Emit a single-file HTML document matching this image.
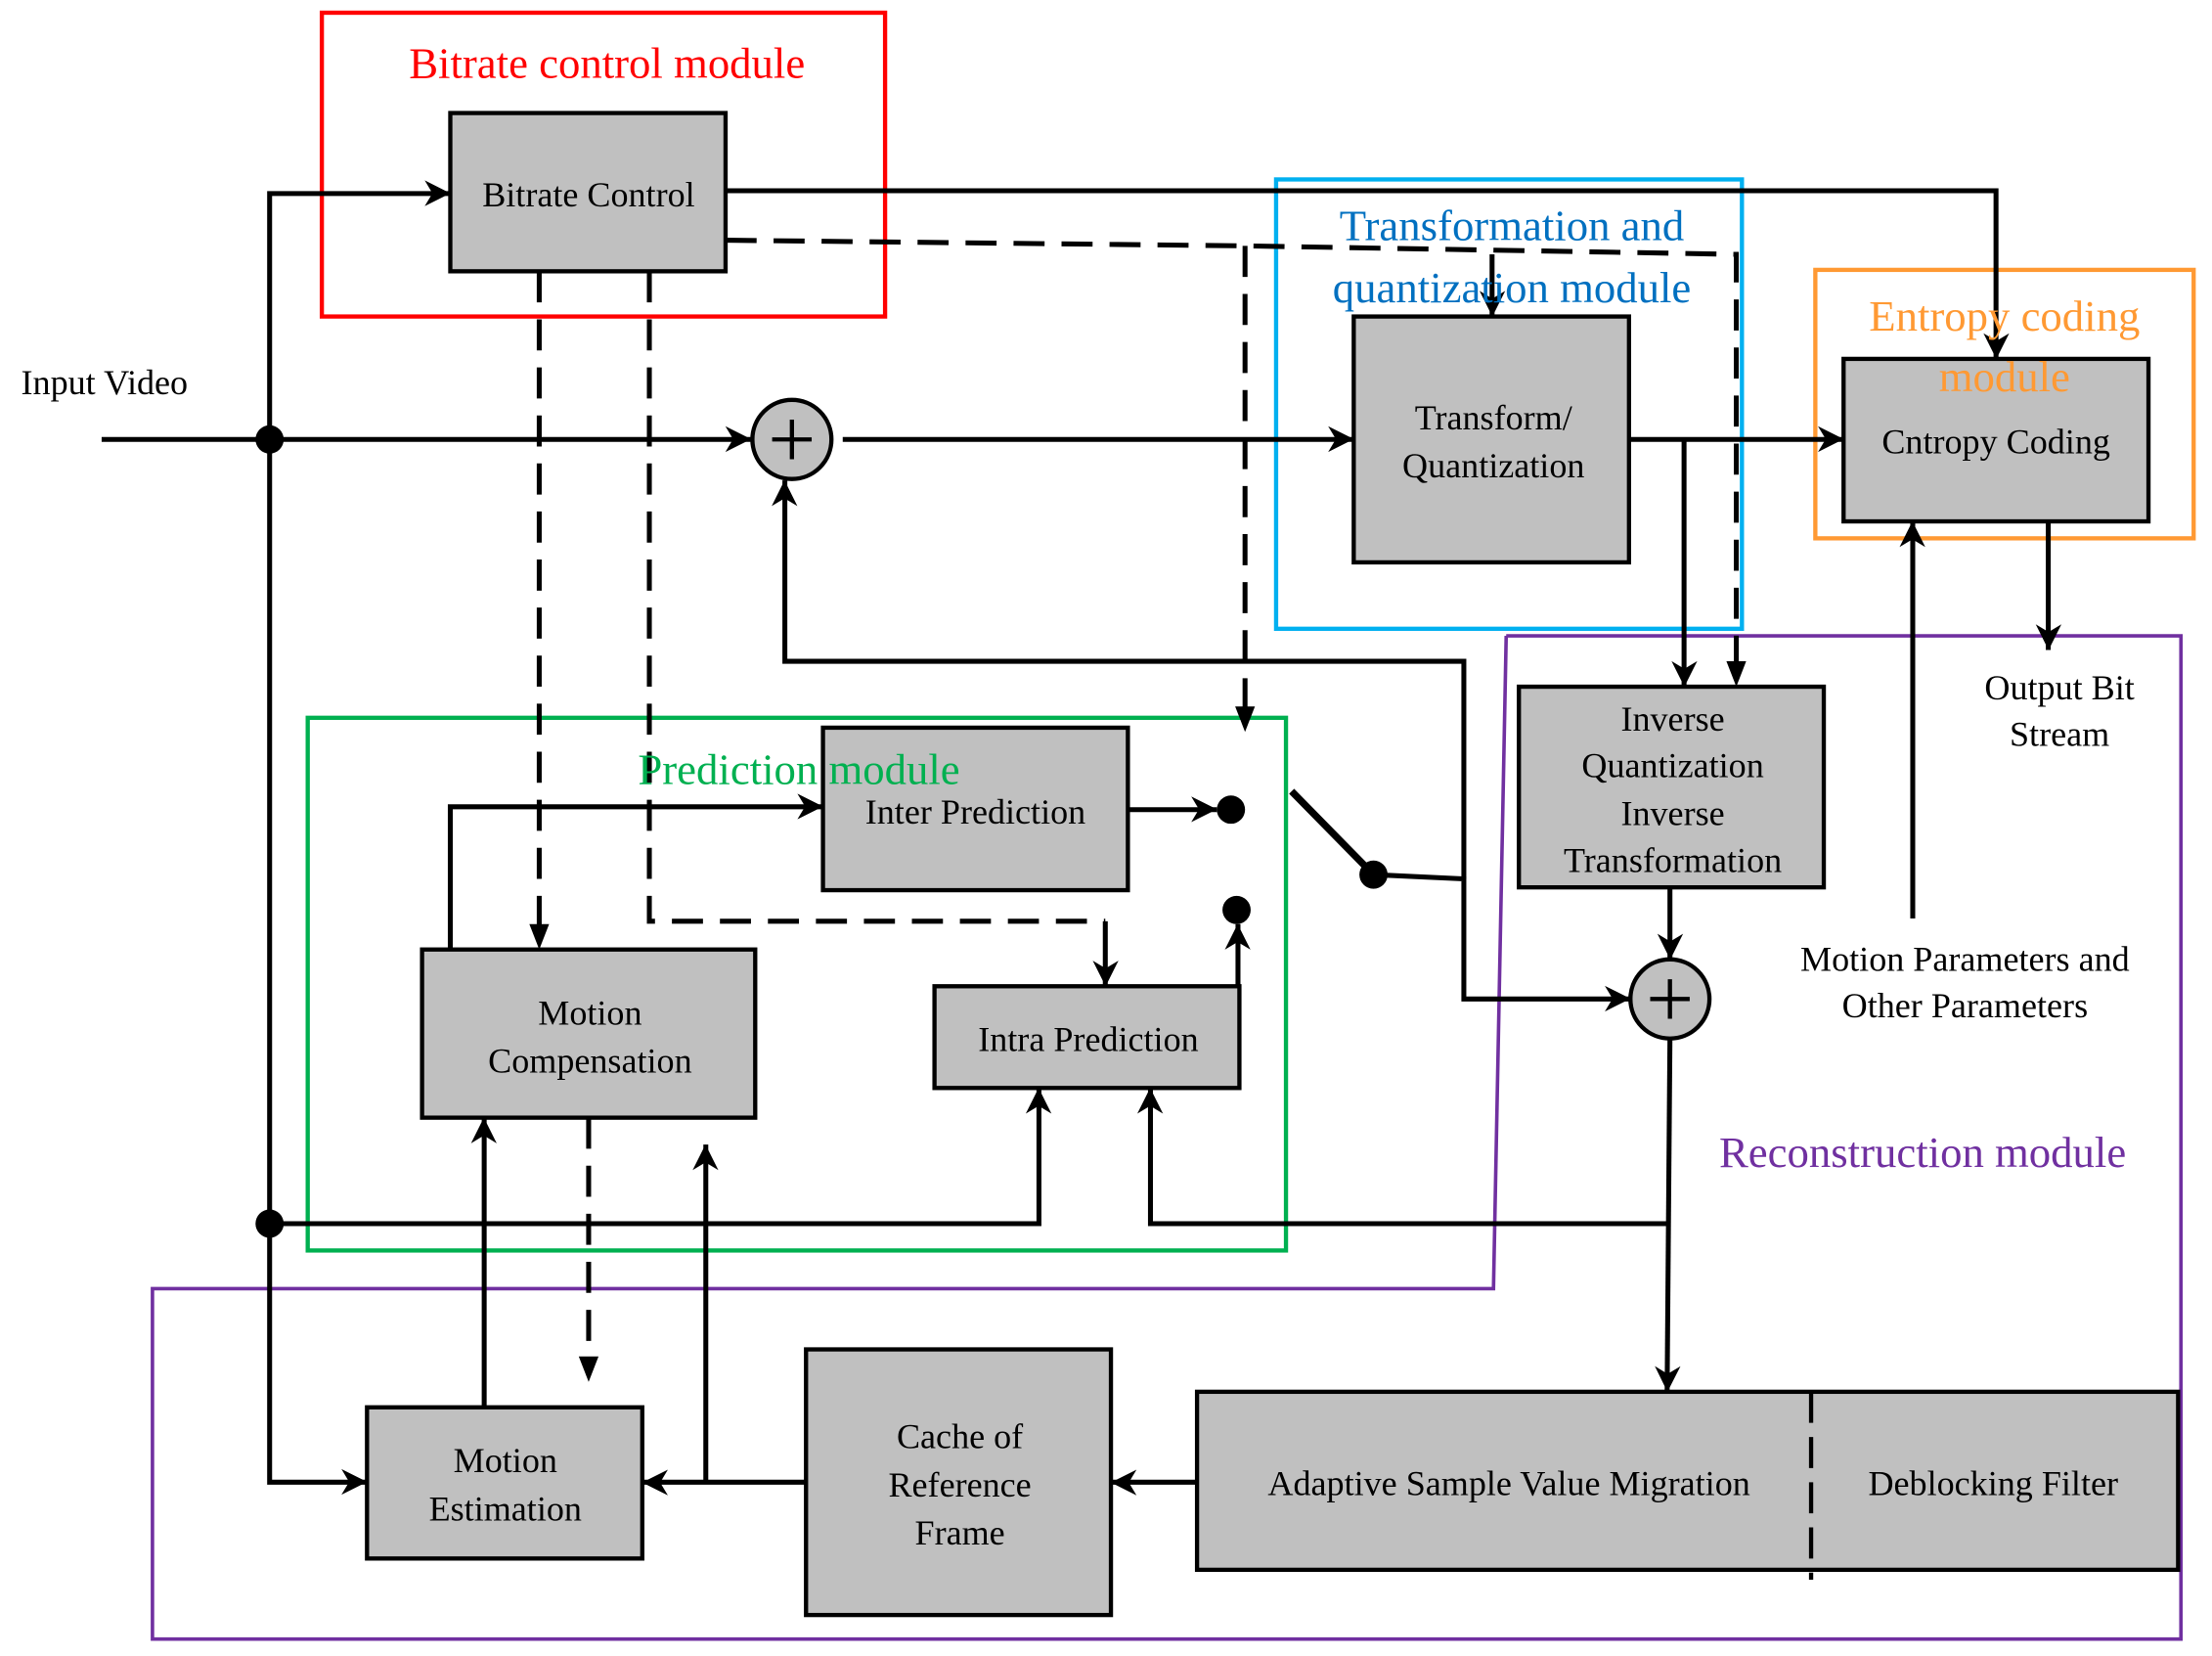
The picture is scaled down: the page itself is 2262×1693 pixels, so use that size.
<!DOCTYPE html>
<html><head><meta charset="utf-8"><style>
html,body{margin:0;padding:0;background:#fff;}
svg{display:block;}
text{font-family:"Liberation Serif",serif;font-size:25px;text-anchor:middle;fill:#000;}
.m{font-size:31px;}
</style></head><body>
<svg width="2262" height="1693" viewBox="0 0 1567 1172" preserveAspectRatio="none" xmlns="http://www.w3.org/2000/svg">
<defs>
<marker id="a" viewBox="0 0 10 10" refX="9" refY="5" markerWidth="7" markerHeight="7" orient="auto" markerUnits="userSpaceOnUse" style="overflow:visible">
<path d="M0,0 L10,5 L0,10 L3,5 z" fill="#000" transform="scale(2.6) translate(-6.5,-3.2)"/>
</marker>
</defs>
<g fill="none" stroke-width="3">
<rect x="228" y="9" width="399" height="215" stroke="#ff0000"/>
<rect x="904" y="127" width="330" height="318" stroke="#00b0f0"/>
<rect x="1286" y="191" width="268" height="190" stroke="#ff9933"/>
<rect x="218" y="508" width="693" height="377" stroke="#00b050"/>
<polyline points="1067,450 1545,450 1545,1160 108,1160 108,912 1058,912 1067,450" stroke="#7030a0" stroke-width="2.5"/>
</g>
<g fill="#c0c0c0" stroke="#000" stroke-width="3">
<rect x="319" y="80" width="195" height="112"/>
<rect x="959" y="224" width="195" height="174"/>
<rect x="1306" y="254" width="216" height="115"/>
<rect x="583" y="515" width="216" height="115"/>
<rect x="299" y="672" width="236" height="119"/>
<rect x="662" y="698" width="216" height="72"/>
<rect x="1076" y="486" width="216" height="142"/>
<rect x="260" y="996" width="195" height="107"/>
<rect x="571" y="955" width="216" height="188"/>
<rect x="848" y="985" width="695" height="126"/>
<circle cx="561" cy="311" r="28"/>
<circle cx="1183" cy="707" r="28"/>
</g>
<g stroke="#000" stroke-width="3" fill="none">
<path d="M547,311 H575 M561,297 V325 M1169,707 H1197 M1183,693 V721"/>
<line x1="1283" y1="985" x2="1283" y2="1118" stroke-dasharray="22,10"/>
</g>
<g stroke="#000" stroke-width="3.5" fill="none" marker-end="url(#a)">
<path d="M72,311 H532"/>
<path d="M191,311 V137 H319"/>
<path d="M191,311 V1049 H260"/>
<path d="M191,866 H736 V770"/>
<path d="M597,311 H959"/>
<path d="M1154,311 H1306"/>
<path d="M1193,311 V486"/>
<path d="M514,135 H1414 V254"/>
<path d="M1057,180 V224"/>
<path d="M799,573 H862"/>
<path d="M877,698 V654"/>
<path d="M973,619 L1037,622 V707 H1155"/>
<path d="M1037,622 V468 H556 V340"/>
<path d="M1183,628 V679"/>
<path d="M1183,735 L1181,985"/>
<path d="M1181,866 H815 V770"/>
<path d="M1451,369 V460"/>
<path d="M1355,650 V369"/>
<path d="M848,1049 H787"/>
<path d="M571,1049 H455"/>
<path d="M500,1049 V810"/>
<path d="M343,996 V791"/>
<path d="M319,672 V571 H583"/>
<path d="M783,652 V698"/>
</g>
<g stroke="#000" stroke-width="3.5" fill="none" stroke-dasharray="22,12">
<path d="M514,170 L882,174 L1230,180 V476"/>
<path d="M882,174 V508"/>
<path d="M382,192 V662"/>
<path d="M460,192 V652 H783"/>
<path d="M417,791 V968"/>
</g>
<g fill="#000">
<path d="M1230,486 l-7,-18 h14 z"/>
<path d="M882,518 l-7,-18 h14 z"/>
<path d="M382,672 l-7,-18 h14 z"/>
<path d="M417,978 l-7,-18 h14 z"/>
<circle cx="191" cy="311" r="10"/>
<circle cx="191" cy="866" r="10"/>
<circle cx="872" cy="573" r="10"/>
<circle cx="876" cy="644" r="10"/>
<circle cx="973" cy="619" r="10"/>
</g>
<line x1="915" y1="560" x2="973" y2="619" stroke="#000" stroke-width="5"/>
<text class="m" x="430" y="55" style="fill:#ff0000">Bitrate control module</text>
<text class="m" x="1071" y="170" style="fill:#0070c0">Transformation and</text>
<text class="m" x="1071" y="214" style="fill:#0070c0">quantization module</text>
<text class="m" x="1420" y="234" style="fill:#ff9933">Entropy coding</text>
<text class="m" x="1420" y="277" style="fill:#ff9933">module</text>
<text class="m" x="566" y="555" style="fill:#00b050">Prediction module</text>
<text class="m" x="1362" y="826" style="fill:#7030a0">Reconstruction module</text>
<text x="417" y="146">Bitrate Control</text>
<text x="1058" y="304">Transform/</text>
<text x="1058" y="338">Quantization</text>
<text x="1414" y="321">Cntropy Coding</text>
<text x="691" y="583">Inter Prediction</text>
<text x="418" y="725">Motion</text>
<text x="418" y="759">Compensation</text>
<text x="771" y="744">Intra Prediction</text>
<text x="1185" y="517">Inverse</text>
<text x="1185" y="550">Quantization</text>
<text x="1185" y="584">Inverse</text>
<text x="1185" y="617">Transformation</text>
<text x="358" y="1042">Motion</text>
<text x="358" y="1076">Estimation</text>
<text x="680" y="1025">Cache of</text>
<text x="680" y="1059">Reference</text>
<text x="680" y="1093">Frame</text>
<text x="1069" y="1058">Adaptive Sample Value Migration</text>
<text x="1412" y="1058">Deblocking Filter</text>
<text x="74" y="279">Input Video</text>
<text x="1459" y="495">Output Bit</text>
<text x="1459" y="528">Stream</text>
<text x="1392" y="687">Motion Parameters and</text>
<text x="1392" y="720">Other  Parameters</text>
</svg>
</body></html>
